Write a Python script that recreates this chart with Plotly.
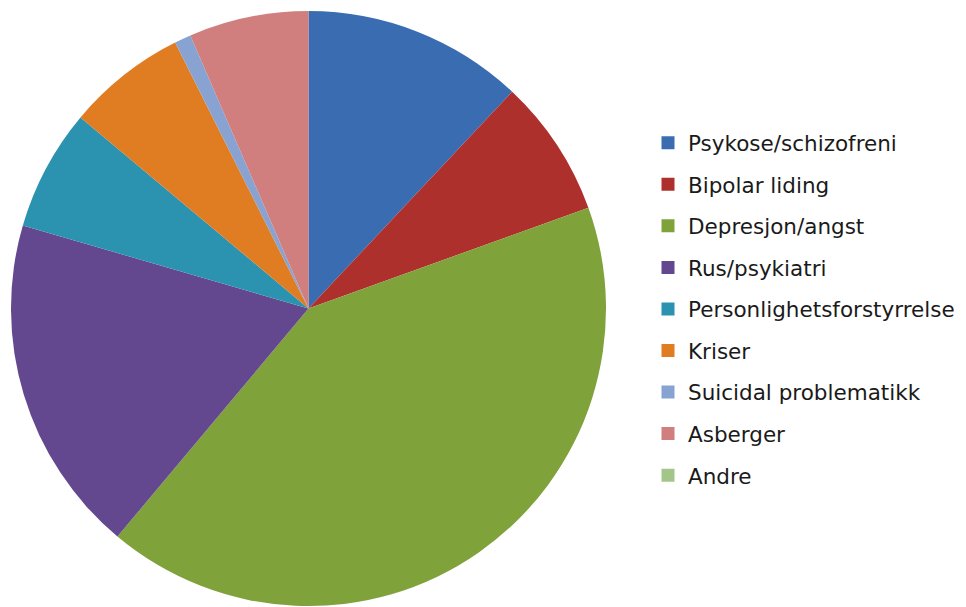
import plotly.graph_objects as go

categories = ["Psykose/schizofreni", "Bipolar liding", "Depresjon/angst", "Rus/psykiatri",
              "Personlighetsforstyrrelse", "Kriser", "Suicidal problematikk", "Asberger", "Andre"]
values = [12.0, 7.5, 41.6, 18.4, 6.6, 6.5, 0.9, 6.5, 0]
colors = ["#3A6CB2", "#AE302D", "#7FA23A", "#634890", "#2B93AF", "#E07C22", "#88A3D2", "#D07E7E", "#A3C58A"]

# page body has an 8px margin, so the figure is sized/positioned to compensate
W, H = 958, 599

fig = go.Figure()
fig.add_trace(go.Pie(
    labels=categories, values=values, sort=False, direction="clockwise", rotation=0,
    marker=dict(colors=colors, line=dict(width=0)), textinfo="none", hoverinfo="label+percent",
    showlegend=False,
    domain=dict(x=[2/W, 599/W], y=[1-598/H, 1-3/H]),
))
for i, (c, col) in enumerate(zip(categories, colors)):
    fig.add_trace(go.Scatter(
        x=[None], y=[None], mode="markers", name=c, legendgroup=f"g{i}",
        marker=dict(symbol="square", size=13, color=col), showlegend=True,
    ))

fig.update_layout(
    width=W, height=H, margin=dict(l=0, r=0, t=0, b=0),
    paper_bgcolor="white", plot_bgcolor="white",
    xaxis=dict(visible=False), yaxis=dict(visible=False),
    legend=dict(x=640/W, y=0.497, xanchor="left", yanchor="middle", tracegroupgap=10.6,
                font=dict(family="DejaVu Sans", size=21.5, color="#1a1a1a"), itemsizing="trace"),
)
fig.write_html("out.html")
